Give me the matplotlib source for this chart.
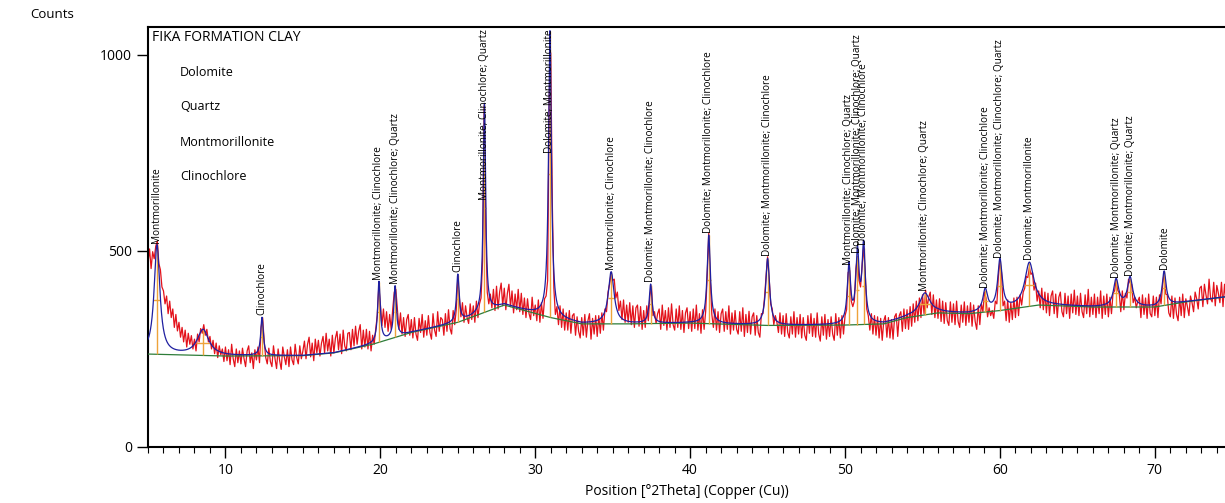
import numpy as np
import matplotlib
matplotlib.use('Agg')
import matplotlib.pyplot as plt
from matplotlib.ticker import MultipleLocator

plt.rcParams['font.family'] = ['Open Sans', 'DejaVu Sans']

# observed counts, 0.1 deg steps from 5.0 deg (one row per degree)
obs_start = 5.0
obs_step = 0.1
obs_counts = [
    470, 505, 455, 498, 480, 512, 525, 468, 452, 408,
    398, 365, 385, 340, 372, 330, 352, 305, 338, 296,
    318, 280, 305, 268, 298, 255, 290, 262, 284, 250,
    275, 245, 288, 268, 302, 290, 312, 285, 300, 268,
    282, 250, 272, 238, 265, 228, 258, 235, 250, 218,
    255, 220, 248, 210, 262, 225, 205, 250, 215, 245,
    212, 252, 225, 205, 245, 258, 215, 240, 200, 248,
    222, 255, 215, 305, 330, 270, 228, 212, 252, 218,
    205, 258, 225, 200, 250, 220, 198, 255, 230, 210,
    248, 205, 255, 222, 210, 262, 228, 212, 258, 225,
    245, 270, 225, 262, 280, 230, 265, 220, 275, 240,
    272, 232, 265, 282, 240, 290, 245, 275, 232, 285,
    240, 278, 295, 248, 288, 238, 298, 258, 245, 290,
    292, 248, 300, 258, 308, 262, 295, 312, 250, 298,
    255, 300, 250, 295, 245, 285, 262, 300, 335, 410,
    365, 310, 352, 305, 345, 295, 338, 300, 352, 395,
    402, 352, 300, 342, 288, 330, 282, 325, 338, 285,
    325, 278, 330, 288, 272, 328, 292, 338, 280, 322,
    285, 335, 292, 275, 340, 298, 282, 345, 295, 330,
    325, 285, 340, 295, 350, 302, 288, 348, 312, 350,
    430, 380, 332, 368, 318, 360, 330, 315, 365, 325,
    360, 318, 372, 330, 365, 380, 475, 870, 565, 395,
    365, 390, 355, 402, 348, 410, 352, 395, 418, 360,
    405, 350, 392, 415, 358, 398, 342, 390, 350, 402,
    345, 392, 338, 380, 330, 378, 340, 325, 382, 335,
    362, 322, 375, 318, 368, 328, 378, 385, 425, 885,
    1005, 625, 405, 338, 358, 312, 360, 305, 352, 298,
    342, 298, 348, 290, 335, 340, 285, 332, 295, 278,
    330, 285, 338, 280, 322, 340, 275, 328, 288, 335,
    282, 335, 290, 342, 298, 352, 345, 395, 415, 445,
    425, 428, 380, 395, 348, 372, 325, 375, 318, 362,
    318, 368, 312, 360, 305, 355, 362, 308, 358, 300,
    348, 305, 360, 322, 385, 410, 335, 345, 315, 340,
    352, 300, 362, 310, 348, 298, 355, 305, 365, 312,
    298, 352, 305, 360, 300, 348, 292, 342, 355, 302,
    345, 295, 352, 302, 362, 298, 340, 290, 350, 300,
    345, 435, 545, 425, 338, 305, 352, 298, 345, 292,
    340, 352, 295, 345, 300, 360, 288, 342, 298, 348,
    300, 288, 345, 295, 355, 282, 338, 292, 346, 288,
    332, 342, 285, 335, 292, 280, 340, 340, 380, 435,
    485, 430, 365, 352, 312, 335, 318, 292, 342, 288,
    335, 282, 340, 292, 278, 332, 288, 345, 280, 330,
    288, 338, 278, 330, 285, 272, 335, 290, 340, 282,
    328, 280, 342, 288, 270, 332, 285, 338, 275, 325,
    282, 332, 288, 272, 340, 285, 330, 278, 335, 288,
    335, 350, 445, 450, 372, 358, 372, 455, 485, 425,
    408, 462, 510, 445, 352, 335, 298, 340, 288, 335,
    285, 332, 278, 328, 272, 322, 335, 280, 330, 278,
    325, 275, 332, 340, 282, 335, 345, 295, 352, 302,
    350, 300, 358, 308, 365, 318, 372, 322, 380, 330,
    388, 340, 400, 355, 382, 395, 338, 388, 330, 375,
    328, 378, 320, 372, 315, 368, 322, 310, 370, 318,
    365, 312, 372, 320, 305, 362, 318, 370, 310, 360,
    318, 368, 308, 362, 320, 300, 360, 312, 365, 345,
    395, 380, 332, 355, 335, 348, 328, 372, 365, 435,
    475, 445, 360, 372, 322, 375, 318, 368, 325, 380,
    330, 382, 335, 388, 362, 395, 405, 435, 432, 458,
    440, 445, 400, 418, 372, 398, 355, 405, 350, 395,
    342, 392, 335, 385, 398, 340, 390, 330, 382, 395,
    345, 332, 392, 340, 385, 328, 390, 342, 400, 338,
    385, 335, 392, 345, 330, 388, 340, 402, 332, 382,
    338, 390, 330, 382, 340, 398, 328, 385, 338, 390,
    332, 382, 340, 392, 398, 425, 400, 392, 345, 398,
    350, 392, 380, 428, 418, 415, 368, 382, 355, 372,
    382, 330, 388, 338, 380, 328, 390, 340, 332, 385,
    335, 382, 330, 388, 365, 412, 445, 390, 388, 342,
    332, 385, 328, 380, 338, 322, 382, 335, 390, 330,
    378, 358, 335, 385, 368, 345, 395, 378, 352, 405,
    410, 358, 415, 388, 365, 428, 378, 370, 420, 360,
    412, 392, 368, 420, 358, 415, 370, 422, 362, 410,
    372,
]

# background line
bg_pos = [5, 10, 15, 17, 19.5, 22, 25, 28, 31, 33, 36, 40, 45, 50, 52.5,
          54, 56, 58, 60, 62.5, 66, 70, 72, 75]
bg_counts = [237, 232, 233, 240, 262, 292, 318, 362, 330, 314, 314, 316, 310,
             311, 314, 330, 342, 340, 348, 362, 357, 357, 370, 385]

# peak list: position, height above background, FWHM
peak_pos = [5.58, 8.55, 12.36, 19.91, 20.95, 25.0, 26.72, 30.95, 34.9, 37.45,
            41.2, 45.0, 50.25, 50.8, 51.2, 55.15, 59.05, 60.0, 61.9, 67.5,
            68.4, 70.6]
peak_height = [278, 65, 97, 154, 130, 121, 532, 730, 132, 99, 225, 170, 148,
               176, 196, 55, 55, 127, 111, 69, 74, 87]
peak_fwhm = [0.45, 0.9, 0.2, 0.2, 0.2, 0.2, 0.18, 0.22, 0.45, 0.22, 0.25, 0.3,
             0.25, 0.25, 0.25, 0.8, 0.35, 0.35, 0.7, 0.4, 0.4, 0.3]
peak_labels = [
    'Montmorillonite', '', 'Clinochlore',
    'Montmorillonite; Clinochlore', 'Montmorillonite; Clinochlore; Quartz',
    'Clinochlore', 'Montmorillonite; Clinochlore; Quartz',
    'Dolomite; Montmorillonite', 'Montmorillonite; Clinochlore',
    'Dolomite; Montmorillonite; Clinochlore',
    'Dolomite; Montmorillonite; Clinochlore',
    'Dolomite; Montmorillonite; Clinochlore',
    'Montmorillonite; Clinochlore; Quartz',
    'Dolomite; Montmorillonite; Clinochlore; Quartz',
    'Dolomite; Montmorillonite; Clinochlore',
    'Montmorillonite; Clinochlore; Quartz',
    'Dolomite; Montmorillonite; Clinochlore',
    'Dolomite; Montmorillonite; Clinochlore; Quartz',
    'Dolomite; Montmorillonite',
    'Dolomite; Montmorillonite; Quartz',
    'Dolomite; Montmorillonite; Quartz',
    'Dolomite',
]
phases = ['Dolomite', 'Quartz', 'Montmorillonite', 'Clinochlore']
sample_name = 'FIKA FORMATION CLAY'

obs_x = obs_start + obs_step * np.arange(len(obs_counts))

# fitted profile = background + lorentzian peaks
calc_x = np.linspace(5, 75, 7001)
calc_y = np.interp(calc_x, bg_pos, bg_counts)
for p, h, w in zip(peak_pos, peak_height, peak_fwhm):
    calc_y = calc_y + h / (1 + (2 * (calc_x - p) / w) ** 2)

fig = plt.figure(figsize=(12.25, 5.03), dpi=100)
ax = fig.add_axes([148 / 1225, 56 / 503, 1 - 148 / 1225, 420 / 503])

ax.plot(obs_x, obs_counts, color='#e3121b', lw=0.9, zorder=2)
ax.plot(bg_pos, bg_counts, color='#2e7d3a', lw=0.9, zorder=3)
for p, h, w in zip(peak_pos, peak_height, peak_fwhm):
    b = np.interp(p, bg_pos, bg_counts)
    ax.vlines(p, b, b + h, color='#eea33a', lw=1.0, zorder=3)
    ax.hlines(b + h / 2, p - w / 2, p + w / 2, color='#eea33a', lw=1.0, zorder=3)
ax.plot(calc_x, calc_y, color='#1f1fa0', lw=0.9, zorder=4)

ax.set_xlim(5, 5 + 1077 / 15.49)
ax.set_ylim(0, 1071)
ax.xaxis.set_major_locator(MultipleLocator(10))
ax.xaxis.set_minor_locator(MultipleLocator(1))
ax.set_yticks([0, 500, 1000])
ax.tick_params(axis='both', which='major', length=8, width=1, labelsize=10, direction='out')
ax.tick_params(axis='x', which='minor', length=4, width=0.8)
for s in ['left', 'bottom', 'top']:
    ax.spines[s].set_linewidth(1.5)
ax.spines['right'].set_visible(False)
ax.set_xlabel('Position [°2Theta] (Copper (Cu))', fontsize=10, labelpad=4)
fig.text(30 / 1225, 1 - 15 / 503, 'Counts', fontsize=9.5, va='center')

ax.text(0.0035, 0.975, sample_name, transform=ax.transAxes, fontsize=10,
        va='center', ha='left')
for i, name in enumerate(phases):
    fig.text(180 / 1225, 1 - (72 + 35 * i) / 503, name, fontsize=9, va='center')

# peak labels, shifted down if they would run past the top of the plot
texts = []
for p, h, lab in zip(peak_pos, peak_height, peak_labels):
    if not lab:
        continue
    top = np.interp(p, bg_pos, bg_counts) + h
    t = ax.text(p, top + 6, lab, rotation=90, ha='center', va='bottom',
                fontsize=7.2, zorder=5)
    texts.append(t)

fig.canvas.draw()
r = fig.canvas.get_renderer()
ax_top = ax.get_window_extent(r).y1
for t in texts:
    bb = t.get_window_extent(r)
    if bb.y1 > ax_top - 1:
        dy = bb.y1 - ax_top + 2
        x, y = t.get_position()
        yd = ax.transData.transform((x, y))[1] - dy
        t.set_y(ax.transData.inverted().transform((0, yd))[1])

fig.savefig('out.png', dpi=100)
